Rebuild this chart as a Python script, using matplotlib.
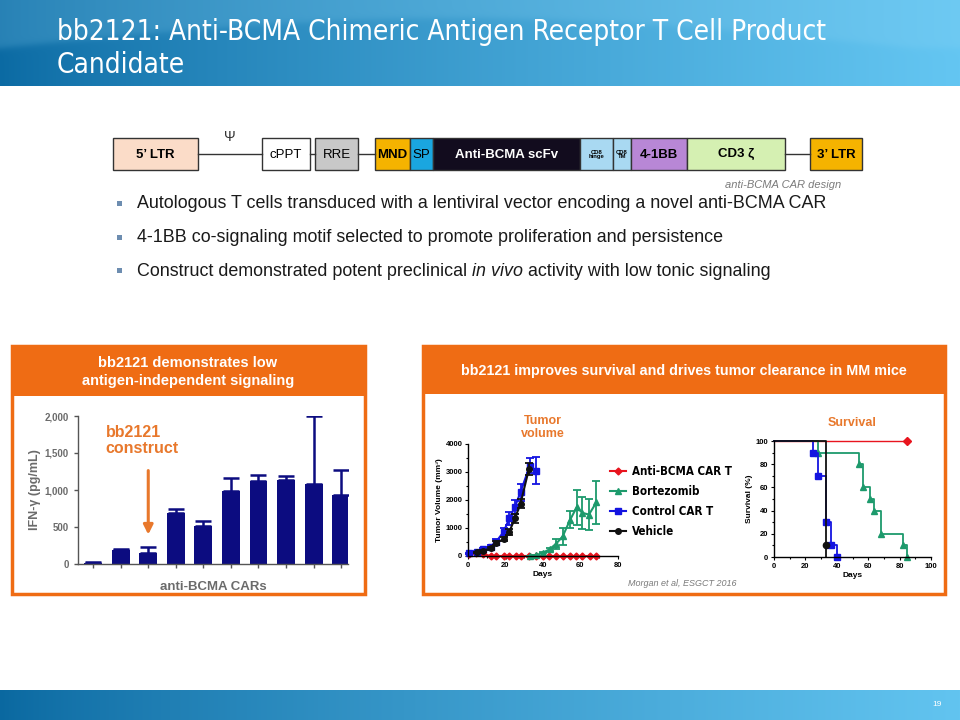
import numpy as np
import matplotlib
matplotlib.use("Agg")
import matplotlib.pyplot as plt
from matplotlib import font_manager
from matplotlib.patches import Rectangle
from matplotlib.colors import to_rgb
from matplotlib.ticker import MultipleLocator

plt.rcParams['font.family'] = ['Liberation Sans', 'DejaVu Sans']

# pick a condensed face if one is installed, otherwise plain Liberation Sans
_fonts = font_manager.fontManager.ttflist
_names = {f.name for f in _fonts}
NARROW_KW = {'family': ['Liberation Sans', 'DejaVu Sans']}
if 'Liberation Sans Narrow' in _names:
    NARROW_KW = {'family': ['Liberation Sans Narrow', 'DejaVu Sans']}
elif any(f.name == 'DejaVu Sans' and 'condensed' in str(f.stretch) for f in _fonts):
    NARROW_KW = {'family': ['DejaVu Sans'], 'stretch': 'condensed'}

W, H = 960, 720
ORANGE = '#ef6c14'
NAVY = '#0c0c80'
GRAY = '#6b6b6b'

# ---- slide text
title_lines = ["bb2121: Anti-BCMA Chimeric Antigen Receptor T Cell Product", "Candidate"]
bullets = [
    ("Autologous T cells transduced with a lentiviral vector encoding a novel anti-BCMA CAR", "", ""),
    ("4-1BB co-signaling motif selected to promote proliferation and persistence", "", ""),
    ("Construct demonstrated potent preclinical ", "in vivo", " activity with low tonic signaling"),
]

# ---- vector map (label, start px, end px, fill, text colour)
vector_parts = [
    ("5\u2019 LTR", 113, 198, '#fbdcc8', 'black'),
    ("cPPT", 262, 310, 'white', 'black'),
    ("RRE", 315, 358, '#c8c8c8', 'black'),
    ("MND", 375, 410, '#f5b300', 'black'),
    ("SP", 410, 433, '#1aa6e0', 'black'),
    ("Anti-BCMA scFv", 433, 580, '#120c1e', 'white'),
    ("CD8\nhinge", 580, 613, '#a9d9f2', 'black'),
    ("CD8\nTM", 613, 631, '#a9d9f2', 'black'),
    ("4-1BB", 631, 687, '#b887d6', 'black'),
    ("CD3 \u03b6", 687, 785, '#d5f0b2', 'black'),
    ("3\u2019 LTR", 810, 862, '#f5b300', 'black'),
]
vector_links = [(198, 262), (310, 315), (358, 375), (785, 810)]

# ---- IFN-gamma bar chart
car_values = [15, 190, 150, 690, 520, 980, 1120, 1135, 1085, 935]
car_err = [8, 6, 85, 50, 55, 185, 80, 50, 915, 340]

# ---- tumour volume (mm3)
anti_days = [0.7, 4.5, 8, 12, 15, 19, 22, 25.5, 28, 32.5, 36, 40, 43, 47, 50.5, 54.5, 57.5, 61, 65, 68.5]
anti_vol = [80, 110, 70, 0, 0, 0, 0, 0, 0, 0, 0, 0, 0, 0, 0, 0, 0, 0, 0, 0]
bort_days = [33, 36.5, 40, 43.5, 47, 50.5, 54.5, 58, 61, 64.5, 68.5]
bort_vol = [10, 30, 120, 240, 440, 700, 1300, 1740, 1540, 1480, 1920]
bort_err = [5, 10, 30, 50, 180, 300, 300, 630, 560, 550, 770]
ctrl_days = [0.5, 5, 8, 12, 15, 19, 22, 25, 28, 33, 36]
ctrl_vol = [95, 150, 240, 330, 510, 860, 1340, 1750, 2280, 3230, 3050]
ctrl_err = [30, 40, 50, 70, 100, 150, 220, 260, 300, 280, 480]
veh_days = [5, 8, 12, 15, 19, 22, 25, 28, 32.5]
veh_vol = [130, 180, 280, 470, 600, 860, 1340, 1870, 3110]
veh_err = [30, 40, 50, 60, 80, 100, 150, 150, 200]

# ---- survival (%)
anti_t, anti_s = [0, 85], [100, 100]
bort_t = [0, 28, 54, 57, 61, 64, 68, 82, 85]
bort_s = [100, 90, 80, 60, 50, 40, 20, 10, 0]
ctrl_t = [0, 25, 28, 33, 36.5, 40]
ctrl_s = [100, 90, 70, 30, 10, 0]
veh_t = [0, 33, 33]
veh_s = [100, 10, 0]

groups = ["Anti-BCMA CAR T", "Bortezomib", "Control CAR T", "Vehicle"]
g_colors = ['#e8141e', '#1d9a6c', '#1414e0', '#111111']
g_markers = ['D', '^', 's', 'o']


def box(l, t, r, b):
    return [l / W, 1 - b / H, (r - l) / W, (b - t) / H]


def band(ax, x0, x1, y0, y1, c0, c1, arc=False):
    c0, c1 = np.array(to_rgb(c0)), np.array(to_rgb(c1))
    nx, ny = 480, max(int(y1 - y0), 2)
    f = np.linspace(0, 1, nx) ** 0.8
    img = np.repeat((c0[None, :] * (1 - f[:, None]) + c1[None, :] * f[:, None])[None], ny, axis=0)
    if arc:
        # soft lighter sweep across the top of the header
        xx = np.linspace(0, 1, nx)
        yy = np.linspace(y0, y1, ny)[:, None]
        edge = 48 - 30 * np.sin(np.pi * np.clip(xx * 1.05, 0, 1))[None, :]
        w = 0.22 / (1 + np.exp((yy - edge) / 2.0))
        img = img * (1 - w[..., None]) + np.array(to_rgb('#8fd6f6')) * w[..., None]
    ax.imshow(img, extent=(x0, x1, y1, y0), aspect='auto', zorder=0, interpolation='bilinear')


fig = plt.figure(figsize=(9.6, 7.2), dpi=100)
bg = fig.add_axes([0, 0, 1, 1])
bg.axis('off')

# header / footer bands
band(bg, 0, W, 0, 86, '#0b6aa3', '#64c6f2', arc=True)
band(bg, 0, W, 690, 720, '#0a68a0', '#62c4f0')
bg.set_xlim(0, W)
bg.set_ylim(H, 0)
fig.canvas.draw()
rend = fig.canvas.get_renderer()

# title, sized so the first line spans the same width as on the slide
t1 = bg.text(57, 32, title_lines[0], color='white', fontsize=20, va='center', ha='left', **NARROW_KW)
w = t1.get_window_extent(renderer=rend).width
tsize = 20 * 768 / w
t1.set_fontsize(tsize)
bg.text(57, 65, title_lines[1], color='white', fontsize=tsize, va='center', ha='left', **NARROW_KW)
bg.text(937, 705, "19", color='white', fontsize=6, va='center', ha='center')

# vector map
for x0, x1 in vector_links:
    bg.plot([x0, x1], [154, 154], color='#333333', lw=1)
for lab, x0, x1, fc, tc in vector_parts:
    bg.add_patch(Rectangle((x0, 138), x1 - x0, 32, facecolor=fc, edgecolor='#333333', lw=1))
    small = '\n' in lab
    bold = lab not in ("cPPT", "RRE", "SP")
    bg.text((x0 + x1) / 2, 154.5, lab, ha='center', va='center', color=tc,
            fontsize=4.2 if small else 9.5, fontweight='bold' if bold else 'normal',
            linespacing=0.9)
bg.text(230, 137, "\u03a8", fontsize=10, ha='center', va='center', color='#333333')
bg.text(841, 185, "anti-BCMA CAR design", fontsize=8, style='italic', color='#7a7a7a',
        ha='right', va='center')

# bullets
for i, parts in enumerate(bullets):
    y = 204 + i * 33.5
    bg.add_patch(Rectangle((117, y - 3), 5, 5, facecolor='#6d8db0', edgecolor='none'))
    x = 137
    for j, piece in enumerate(parts):
        if not piece:
            continue
        t = bg.text(x, y, piece, fontsize=12.9, color='#1a1a1a', va='center', ha='left',
                    style='italic' if j == 1 else 'normal')
        x += t.get_window_extent(renderer=rend).width

# panels
for (l, t, r, b, hb) in [(12, 346, 365, 594, 396), (423, 346, 945, 594, 394)]:
    bg.add_patch(Rectangle((l, t), r - l, hb - t, facecolor=ORANGE, edgecolor='none'))
    bg.add_patch(Rectangle((l, t), r - l, b - t, facecolor='none', edgecolor=ORANGE, lw=2.5))
bg.text(188, 372, "bb2121 demonstrates low\nantigen-independent signaling", color='white',
        fontsize=10.5, fontweight='bold', ha='center', va='center', linespacing=1.45)
bg.text(684, 371, "bb2121 improves survival and drives tumor clearance in MM mice",
        color='white', fontsize=10.3, fontweight='bold', ha='center', va='center')
bg.text(682, 584, "Morgan et al, ESGCT 2016", fontsize=6.5, style='italic', color='#7a7a7a',
        ha='center', va='center')

# ---- bar chart
ax1 = fig.add_axes(box(78, 416, 348, 564))
xs = np.arange(len(car_values))
ax1.bar(xs, car_values, width=0.65, color=NAVY, zorder=2)
ax1.errorbar(xs, car_values, yerr=[np.zeros(len(car_err)), car_err], fmt='none',
             ecolor=NAVY, elinewidth=1.8, capsize=6, capthick=1.8, zorder=1)
ax1.set_xlim(-0.55, 9.25)
ax1.set_ylim(0, 2000)
ax1.set_yticks([0, 500, 1000, 1500, 2000])
ax1.set_yticklabels(["0", "500", "1,000", "1,500", "2,000"])
ax1.set_xticks(xs)
ax1.set_xticklabels([])
for s in ['top', 'right']:
    ax1.spines[s].set_visible(False)
for s in ['left', 'bottom']:
    ax1.spines[s].set_color('#555555')
    ax1.spines[s].set_linewidth(1)
ax1.tick_params(colors='#555555', labelcolor=GRAY, labelsize=7, length=3, width=1)
for lbl in ax1.get_yticklabels():
    lbl.set_fontweight('bold')
ax1.set_ylabel("IFN-\u03b3 (pg/mL)", fontsize=9, fontweight='bold', color=GRAY, labelpad=3)
ax1.set_xlabel("anti-BCMA CARs", fontsize=9.5, fontweight='bold', color=GRAY, labelpad=6)
ax1.text(0.45, 1880, "bb2121\nconstruct", color='#e8782c', fontsize=11.5, fontweight='bold',
         ha='left', va='top', linespacing=1.1)
ax1.annotate("", xy=(2, 360), xytext=(2, 1300),
             arrowprops=dict(arrowstyle='-|>', color='#e8782c', lw=2.2,
                             mutation_scale=14))

# ---- tumour volume
ax2 = fig.add_axes(box(468, 444, 618, 556))
tv = [(anti_days, anti_vol, None), (bort_days, bort_vol, bort_err),
      (ctrl_days, ctrl_vol, ctrl_err), (veh_days, veh_vol, veh_err)]
handles = []
for (d, v, e), c, m, name in zip(tv, g_colors, g_markers, groups):
    if e is not None:
        ax2.errorbar(d, v, yerr=e, fmt='none', ecolor=c, elinewidth=1.3, capsize=3,
                     capthick=1.3, clip_on=False)
    h, = ax2.plot(d, v, color=c, marker=m, markersize=4 if m != 'D' else 3.5, lw=1.5,
                  clip_on=False, label=name)
    handles.append(h)
ax2.set_xlim(0, 80)
ax2.set_ylim(0, 4000)
ax2.set_xticks([0, 20, 40, 60, 80])
ax2.set_yticks([0, 1000, 2000, 3000, 4000])
ax2.xaxis.set_minor_locator(MultipleLocator(10))
ax2.yaxis.set_minor_locator(MultipleLocator(500))
ax2.set_xlabel("Days", fontsize=6, fontweight='bold', labelpad=2)
ax2.set_ylabel("Tumor Volume (mm\u00b3)", fontsize=6, fontweight='bold', labelpad=2)
ax2.text(0.5, 1.04, "Tumor\nvolume", transform=ax2.transAxes, color='#e8782c', fontsize=9,
         fontweight='bold', ha='center', va='bottom', linespacing=1.05)

# ---- survival
ax3 = fig.add_axes(box(774, 441, 931, 557))
surv = [(anti_t, anti_s, [1]), (bort_t, bort_s, list(range(1, len(bort_t)))),
        (ctrl_t, ctrl_s, list(range(1, len(ctrl_t)))), (veh_t, veh_s, [1])]
for (t, s, me), c, m in zip(surv, g_colors, g_markers):
    ax3.plot(t, s, drawstyle='steps-post', color=c, lw=1.3 if c != g_colors[0] else 1,
             clip_on=False)
    ax3.plot(np.array(t)[me], np.array(s)[me], ls='none', marker=m, color=c,
             markersize=4.5 if m != 'D' else 4, clip_on=False)
ax3.set_xlim(0, 100)
ax3.set_ylim(0, 100)
ax3.set_xticks(range(0, 101, 20))
ax3.set_yticks(range(0, 101, 20))
ax3.xaxis.set_minor_locator(MultipleLocator(10))
ax3.yaxis.set_minor_locator(MultipleLocator(10))
ax3.set_xlabel("Days", fontsize=6, fontweight='bold', labelpad=2)
ax3.set_ylabel("Survival (%)", fontsize=6, fontweight='bold', labelpad=2)
ax3.text(0.5, 1.1, "Survival", transform=ax3.transAxes, color='#e8782c', fontsize=9,
         fontweight='bold', ha='center', va='bottom')

for ax in (ax2, ax3):
    for s in ['top', 'right']:
        ax.spines[s].set_visible(False)
    for s in ['left', 'bottom']:
        ax.spines[s].set_linewidth(1)
    ax.tick_params(labelsize=5.5, length=2.5, width=0.8, pad=1.5)
    ax.tick_params(which='minor', length=1.5, width=0.8)
    for lbl in ax.get_xticklabels() + ax.get_yticklabels():
        lbl.set_fontweight('bold')

legend_prop = {'size': 8.3, 'weight': 'semibold'}
legend_prop.update(NARROW_KW)
fig.legend(handles=handles, labels=groups, loc='upper left',
           bbox_to_anchor=(610 / W, 1 - 465 / H), frameon=False,
           prop=legend_prop, handlelength=1.4, handletextpad=0.5,
           labelspacing=0.62, borderpad=0, borderaxespad=0)

fig.savefig("out.png", dpi=100)
